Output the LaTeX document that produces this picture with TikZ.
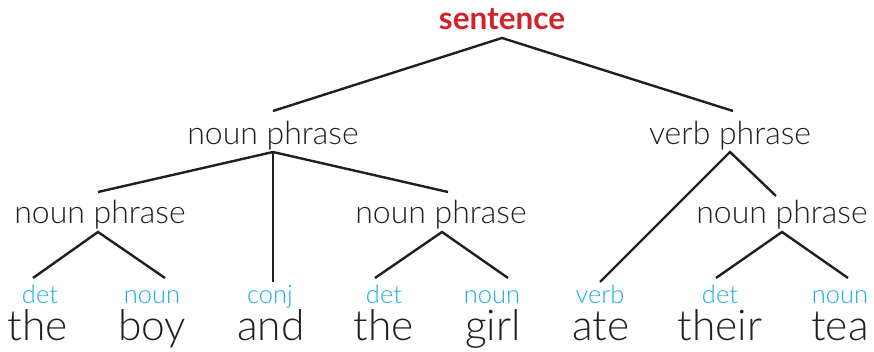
\documentclass[tikz,border=0pt]{standalone}
\usepackage{fontspec}
\setmainfont{Lato}[UprightFont=* Light, BoldFont=* Bold]
\definecolor{redhead}{HTML}{D2232A}
\definecolor{poscol}{HTML}{1BAEE8}
\definecolor{ink}{HTML}{231F20}
\begin{document}
\begin{tikzpicture}[x=1pt,y=1pt,
  every node/.style={inner sep=0pt, anchor=base, text=ink},
  head/.style={font=\fontsize{31.5}{33}\selectfont\bfseries, text=redhead},
  phrase/.style={font=\fontsize{32}{34}\selectfont},
  postag/.style={font=\fontsize{25.5}{27}\selectfont, text=poscol, text height=18pt, text depth=1pt},
  word/.style={font=\fontsize{42.5}{45}\selectfont, text height=27pt, text depth=8pt},
  branch/.style={draw=ink, line width=2.4pt}]
\useasboundingbox (0,0) rectangle (874,352);
% nodes (y = 352 - pixel y)
\node[head] (s) at (502,322) {sentence};
\node[phrase] (np1) at (273,207) {noun phrase};
\node[phrase] (vp) at (730,207) {verb phrase};
\node[phrase] (npl) at (100,128) {noun phrase};
\node[phrase] (npm) at (441,128) {noun phrase};
\node[phrase] (npr) at (782,128) {noun phrase};
\node[postag] (p1) at (40,48) {det};
\node[postag] (p2) at (152,48) {noun};
\node[postag] (p3) at (270,48) {conj};
\node[postag] (p4) at (384,48) {det};
\node[postag] (p5) at (492,48) {noun};
\node[postag] (p6) at (600,48) {verb};
\node[postag] (p7) at (720,48) {det};
\node[postag] (p8) at (840,48) {noun};
\node[word] (w1) at (38,11) {the};
\node[word] (w2) at (152,11) {boy};
\node[word] (w3) at (271,11) {and};
\node[word] (w4) at (384,11) {the};
\node[word] (w5) at (493,11) {girl};
\node[word] (w6) at (601,11) {ate};
\node[word] (w7) at (720,11) {their};
\node[word] (w8) at (840,11) {tea};
% branches
\draw[branch] ([yshift=34]np1.base) -- ([yshift=-8]s.base) -- ([shift={(3,34)}]vp.base);
\draw[branch] ([xshift=-2,yshift=32]npl.base) -- ([yshift=-7]np1.base) -- ([shift={(7,32)}]npm.base);
\draw[branch] ([yshift=-7]np1.base) -- ([shift={(3,22)}]p3.base);
\draw[branch] ([yshift=22]p6.base) -- ([yshift=-7]vp.base) -- ([shift={(-6,28)}]npr.base);
\draw[branch] ([shift={(-7,26)}]p1.base) -- ([xshift=-2,yshift=-8]npl.base) -- ([shift={(13,26)}]p2.base);
\draw[branch] ([shift={(-9,26)}]p4.base) -- ([xshift=1,yshift=-8]npm.base) -- ([shift={(16,26)}]p5.base);
\draw[branch] ([shift={(-4,26)}]p7.base) -- ([yshift=-8]npr.base) -- ([shift={(8,26)}]p8.base);
\end{tikzpicture}
\end{document}
